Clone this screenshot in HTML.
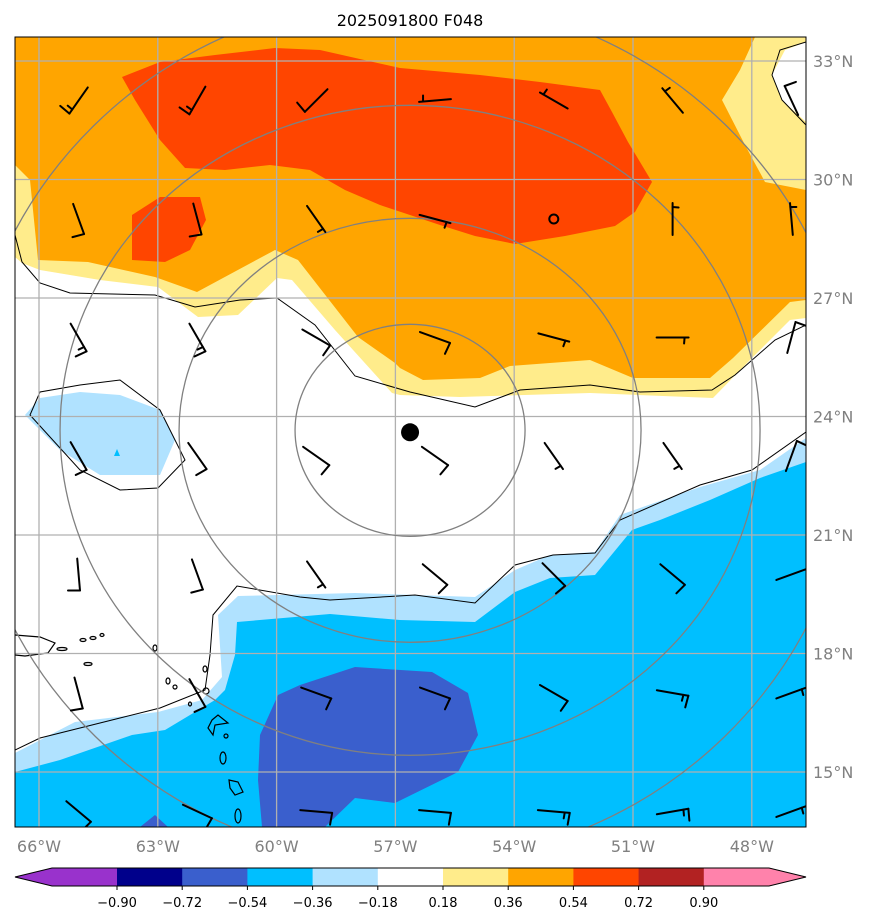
<!DOCTYPE html>
<html><head><meta charset="utf-8">
<style>
html,body{margin:0;padding:0;background:#fff;}
svg{display:block;font-family:"DejaVu Sans","Liberation Sans",sans-serif;}
</style></head>
<body>
<svg id="chart" width="876" height="924" viewBox="0 0 876 924" xmlns="http://www.w3.org/2000/svg">
<defs><clipPath id="mapclip"><rect x="15" y="37" width="791" height="790"/></clipPath></defs>
<text x="410" y="26" font-size="16" text-anchor="middle" fill="#000">2025091800 F048</text>
<g clip-path="url(#mapclip)">
  <rect x="15" y="37" width="791" height="790" fill="#00BFFF"/>
  <path fill="#B0E2FF" d="M15,37 L806,37 L806,462 L760,478 L710,500 L660,520 L632,530 L595,575 L550,578 L515,592 L475,622 L400,620 L330,614 L237,622 L235,655 L225,690 L215,700 L165,730 L132,735 L60,760 L15,772 Z"/>
  <path fill="#ffffff" d="M15,37 L806,37 L806,438 L760,470 L700,487 L620,515 L595,552 L550,555 L515,570 L475,597 L355,593 L238,596 L218,615 L222,677 L202,700 L158,712 L75,722 L15,753 Z"/>
  <path fill="#B0E2FF" d="M25,415 L40,398 L80,392 L120,395 L160,410 L175,440 L160,475 L100,475 L60,450 Z"/>
  <path fill="#FFEC8B" d="M15,37 L806,37 L806,318 L790,320 L750,360 L713,398 L590,393 L460,397 L400,395 L392,393 L335,330 L292,280 L277,278 L238,315 L198,317 L158,287 L100,280 L40,270 L22,263 L15,257 Z"/>
  <path fill="#FFA500" d="M15,37 L806,37 L806,300 L790,302 L733,358 L710,378 L633,378 L590,360 L510,366 L480,378 L423,380 L400,368 L395,363 L358,337 L298,260 L275,250 L197,292 L155,277 L88,262 L38,260 L30,180 L15,165 Z"/>
  <path fill="#FFEC8B" d="M755,37 L806,37 L806,190 L765,182 L745,145 L722,100 L740,70 Z"/>
  <path fill="#ffffff" d="M806,42 L785,50 L772,75 L782,100 L806,122 Z"/>
  <path fill="#FF4500" d="M122,77 L160,62 L215,55 L275,48 L320,50 L400,68 L480,75 L540,82 L600,90 L612,112 L628,142 L652,182 L635,212 L615,226 L565,236 L515,244 L475,236 L440,225 L410,215 L380,205 L345,190 L310,170 L270,165 L225,170 L185,168 L160,140 L135,100 Z"/>
  <path fill="#FF4500" d="M132,215 L160,197 L200,197 L206,220 L190,250 L165,262 L132,260 Z"/>
  <path fill="#3A5FCD" d="M300,685 L355,667 L432,672 L468,693 L478,735 L458,772 L395,803 L355,798 L325,827 L262,827 L258,780 L260,735 L278,695 Z"/>
  <path fill="#3A5FCD" d="M140,827 L155,815 L168,827 Z"/>
  <g fill="none" stroke="#000" stroke-width="1">
    <path d="M15,235 L22,262 L40,283 L70,293 L155,295 L195,307 L240,300 L277,298 L315,325 L355,376 L410,392 L475,407 L520,390 L590,385 L640,392 L712,390 L735,375 L775,340 L806,325"/>
    <path d="M15,750 L40,738 L120,718 L160,708 L205,690 L210,655 L213,615 L237,586 L300,597 L330,600 L415,595 L475,603 L515,565 L553,555 L595,553 L620,520 L700,485 L752,470 L806,432"/>
    <path d="M30,415 L40,392 L80,385 L120,380 L160,410 L185,460 L158,488 L120,490 L80,470 Z"/>
    <path d="M806,42 L780,50 L772,75 L782,100 L806,125"/>
  </g>
  <g fill="none" stroke="#000" stroke-width="1.2">
    <path d="M15,635 L40,637 L55,643 L48,653 L25,656 L15,655"/>
    <ellipse cx="62" cy="649" rx="5" ry="1.5"/><ellipse cx="83" cy="640" rx="3" ry="1.5"/><ellipse cx="93" cy="638" rx="3" ry="1.5"/><ellipse cx="102" cy="635" rx="2" ry="1.5"/>
    <ellipse cx="88" cy="664" rx="4" ry="1.5"/><ellipse cx="155" cy="648" rx="2" ry="3"/><ellipse cx="168" cy="681" rx="2" ry="3"/><ellipse cx="175" cy="687" rx="2" ry="2"/>
    <ellipse cx="205" cy="669" rx="2" ry="3"/><ellipse cx="206" cy="691" rx="3" ry="3"/><ellipse cx="190" cy="704" rx="1.5" ry="2"/>
    <path d="M212,720 L218,715 L228,723 L215,725 L213,735 L208,728 Z"/><ellipse cx="226" cy="736" rx="2" ry="2"/>
    <ellipse cx="223" cy="758" rx="3" ry="6"/><path d="M229,780 L238,782 L243,792 L235,795 L230,788 Z"/><ellipse cx="238" cy="816" rx="3" ry="7"/>
  </g>
  <g stroke="#b0b0b0" stroke-width="1.3" id="grid"></g>
  <g fill="none" stroke="#808080" stroke-width="1.3" id="rings"></g>
  <g stroke="#000" stroke-width="2" fill="none" stroke-linecap="round" id="barbs"></g>
  <polygon points="117,449 120,456 114,456" fill="#00BFFF"/>
  <circle id="stormdot" r="9" fill="#000"/>
</g>
<rect x="15" y="37" width="791" height="790" fill="none" stroke="#000" stroke-width="1"/>
<g id="lonlabels" font-size="16" fill="#808080" text-anchor="middle"></g>
<g id="latlabels" font-size="16" fill="#808080"></g>
<g id="colorbar"></g>
</svg>
<script>
const lonTicks = [-66, -63, -60, -57, -54, -51, -48];
const latTicks = [33, 30, 27, 24, 21, 18, 15];
const cbLevels = [-0.90, -0.72, -0.54, -0.36, -0.18, 0.18, 0.36, 0.54, 0.72, 0.90];
const cbColors = ["#00008B", "#3A5FCD", "#00BFFF", "#B0E2FF", "#FFFFFF", "#FFEC8B", "#FFA500", "#FF4500", "#B22222"];
const cbExtendColors = ["#9932CC", "#FF82AB"];
const barbLons = [-65, -62, -59, -56, -53, -50, -47];
const barbLats = [32, 29, 26, 23, 20, 17, 14];
const barbDir = [
  [125, 120, 135, 175, -150, -130, -115],
  [70, 75, 55, 15, 0, -90, -95],
  [60, 60, 30, 20, 15, 0, -75],
  [60, 55, 35, 35, 55, 55, -70],
  [85, 70, 55, 40, 45, 40, -20],
  [75, 60, 20, 20, 30, 10, -20],
  [40, 25, 5, 5, 5, -10, -20]
];
const barbSpeed = [
  [15, 15, 10, 5, 5, 5, 10],
  [10, 10, 5, 5, 0, 5, 5],
  [15, 15, 10, 10, 5, 5, 10],
  [10, 10, 10, 10, 5, 5, 10],
  [10, 10, 5, 10, 10, 10, 10],
  [10, 10, 10, 10, 10, 15, 15],
  [10, 10, 10, 10, 15, 15, 15]
];
const stormLon = -56.63, stormLat = 23.6;
const ringRadii = [[115,106],[231,212],[350,325],[445,433]];

const NS = "http://www.w3.org/2000/svg";
const xOf = lon => 39 + (lon + 66) * 39.6;
const yOf = lat => 61 + (33 - lat) * 39.5;
const cbX = i => 117 + i * 65.2;
function mk(tag, attrs, parent) {
  const e = document.createElementNS(NS, tag);
  for (const k in attrs) e.setAttribute(k, attrs[k]);
  parent.appendChild(e);
  return e;
}
const grid = document.getElementById("grid");
lonTicks.forEach(l => {
  const ln = mk("line", {x1: xOf(l), x2: xOf(l), y1: 37, y2: 827}, grid);
  
  
  const t = mk("text", {x: xOf(l), y: 852}, document.getElementById("lonlabels"));
  t.textContent = Math.abs(l) + "°W";
  
  
});
latTicks.forEach(l => {
  const ln = mk("line", {x1: 15, x2: 806, y1: yOf(l), y2: yOf(l)}, grid);
  
  
  const t = mk("text", {x: 813, y: yOf(l) + 6}, document.getElementById("latlabels"));
  t.textContent = l + "°N";
  
  
});
const sx = xOf(stormLon), sy = yOf(stormLat);
const dot = document.getElementById("stormdot");
dot.setAttribute("cx", sx); dot.setAttribute("cy", sy);
const rings = document.getElementById("rings");
ringRadii.forEach(r => {
  const e = mk("ellipse", {cx: sx, cy: sy - 2, rx: r[0], ry: r[1]}, rings);
  
  
});
const barbs = document.getElementById("barbs");
const rad = d => d * Math.PI / 180;
barbLats.forEach((lat, j) => {
  barbLons.forEach((lon, i) => {
    const cx = xOf(lon), cy = yOf(lat);
    const spd = barbSpeed[j][i], dir = barbDir[j][i];
    if (spd === 0) {
      const c = mk("circle", {cx: cx, cy: cy, r: 4.5}, barbs);
      
      
      return;
    }
    const g = mk("g", {}, barbs);
    
    
    const dx = Math.cos(rad(dir)), dy = Math.sin(rad(dir));
    const tx = Math.cos(rad(dir + 95)), ty = Math.sin(rad(dir + 95));
    const ex = cx + dx * 16, ey = cy + dy * 16;
    mk("line", {x1: cx - dx * 16, y1: cy - dy * 16, x2: ex, y2: ey}, g);
    let full = Math.floor(spd / 10), half = (spd % 10) >= 5 ? 1 : 0;
    let off = 0;
    for (let k = 0; k < full; k++) {
      const bx = ex - dx * off, by = ey - dy * off;
      mk("line", {x1: bx, y1: by, x2: bx + tx * 12, y2: by + ty * 12}, g);
      off += 5;
    }
    if (half) {
      if (full === 0) off = 4;
      const bx = ex - dx * off, by = ey - dy * off;
      mk("line", {x1: bx, y1: by, x2: bx + tx * 6, y2: by + ty * 6}, g);
    }
  });
});
const cb = document.getElementById("colorbar");
const y0 = 868, y1 = 886, ym = 877;
const left = mk("polygon", {points: `15,${ym} 52,${y0} ${cbX(0)},${y0} ${cbX(0)},${y1} 52,${y1}`, fill: cbExtendColors[0]}, cb);


cbColors.forEach((c, i) => {
  const r = mk("rect", {x: cbX(i), y: y0, width: cbX(i + 1) - cbX(i) + 0.5, height: y1 - y0, fill: c}, cb);
  
  
});
const last = cbX(cbLevels.length - 1);
const right = mk("polygon", {points: `${last},${y0} 769,${y0} 806,${ym} 769,${y1} ${last},${y1}`, fill: cbExtendColors[1]}, cb);


const outline = mk("polygon", {points: `15,${ym} 52,${y0} 769,${y0} 806,${ym} 769,${y1} 52,${y1}`, fill: "none", stroke: "#000", "stroke-width": 1}, cb);


cbLevels.forEach((v, i) => {
  const tk = mk("line", {x1: cbX(i), x2: cbX(i), y1: y1, y2: y1 + 4, stroke: "#000"}, cb);
  
  
  const t = mk("text", {x: cbX(i), y: y1 + 21, "font-size": 13, "text-anchor": "middle", fill: "#000"}, cb);
  t.textContent = (v < 0 ? "\u2212" : "") + Math.abs(v).toFixed(2);
  
  
});
</script>
</body></html>
